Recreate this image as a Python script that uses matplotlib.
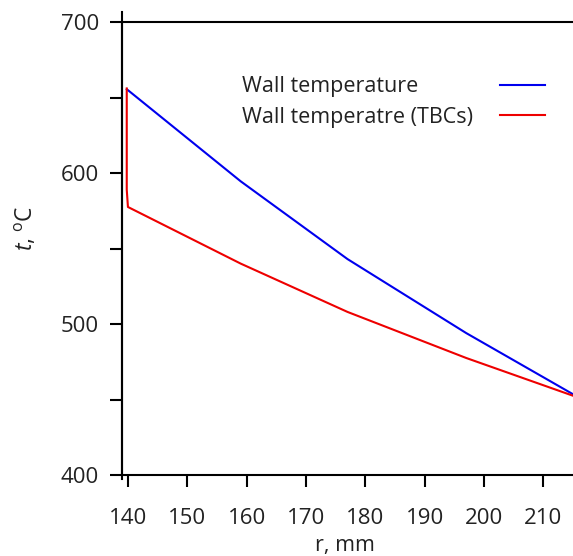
import numpy as np
import matplotlib.pyplot as plt
from matplotlib.lines import Line2D
from matplotlib.ticker import MultipleLocator

plt.rcParams['font.family'] = ['Open Sans', 'DejaVu Sans']
plt.rcParams['mathtext.fontset'] = 'custom'
plt.rcParams['mathtext.rm'] = 'Open Sans'
plt.rcParams['mathtext.it'] = 'Open Sans:italic'

# radius (mm) and wall temperature (deg C)
r_wall = [139.8, 159.0, 177.0, 197.0, 215.0]
t_wall = [655.5, 594.5, 543.0, 494.0, 453.5]

r_tbc = [139.8, 139.8, 140.0, 159.0, 177.0, 197.0, 215.0]
t_tbc = [656.0, 589.0, 577.5, 540.0, 508.0, 477.5, 452.5]

series_names = ['Wall temperature', 'Wall temperatre (TBCs)']
series_colors = ['#0000ee', '#ee0000']

txt = '#222222'

fig = plt.figure(figsize=(5.73, 5.56), dpi=100)
ax = fig.add_axes([122 / 573, 1 - 475 / 556, 1 - 122 / 573, (475 - 22) / 556])

ax.plot(r_wall, t_wall, color=series_colors[0], lw=1.5)
ax.plot(r_tbc, t_tbc, color=series_colors[1], lw=1.5)

ax.set_xlim(139.0, 215.0)
ax.set_ylim(400, 700)
ax.xaxis.set_major_locator(MultipleLocator(10))
ax.yaxis.set_major_locator(MultipleLocator(100))
ax.yaxis.set_minor_locator(MultipleLocator(50))

for s in ['left', 'bottom', 'top']:
    ax.spines[s].set_linewidth(1.5)
ax.spines['right'].set_visible(False)
# left spine runs a little past both ends
ax.add_line(Line2D([0, 0], [-0.008, 1.022], transform=ax.transAxes,
                   color='black', lw=1.5, clip_on=False))

ax.tick_params(axis='y', which='both', direction='out', length=8.5, width=1.5,
               labelsize=16, pad=8, labelcolor=txt)
ax.tick_params(axis='x', direction='out', length=8.5, width=1.5,
               labelsize=16, pad=15, labelcolor=txt)

ax.set_xlabel('r, mm', fontsize=15.5, color=txt)
ax.xaxis.set_label_coords(0.494, -0.133)
ax.set_ylabel(r'$t$, $^{\rm o}$C', fontsize=16.5, color=txt)
ax.yaxis.set_label_coords(-0.183, 0.545)

# legend: names on the left, line samples on the right
for i, (name, c) in enumerate(zip(series_names, series_colors)):
    y = 0.857 - i * 0.067
    ax.text(0.266, y, name, transform=ax.transAxes, fontsize=15.5,
            va='center', ha='left', color=txt)
    ax.add_line(Line2D([0.838, 0.937], [y + 0.004, y + 0.004],
                       transform=ax.transAxes, color=c, lw=1.5))

fig.savefig('out.png', dpi=100)
